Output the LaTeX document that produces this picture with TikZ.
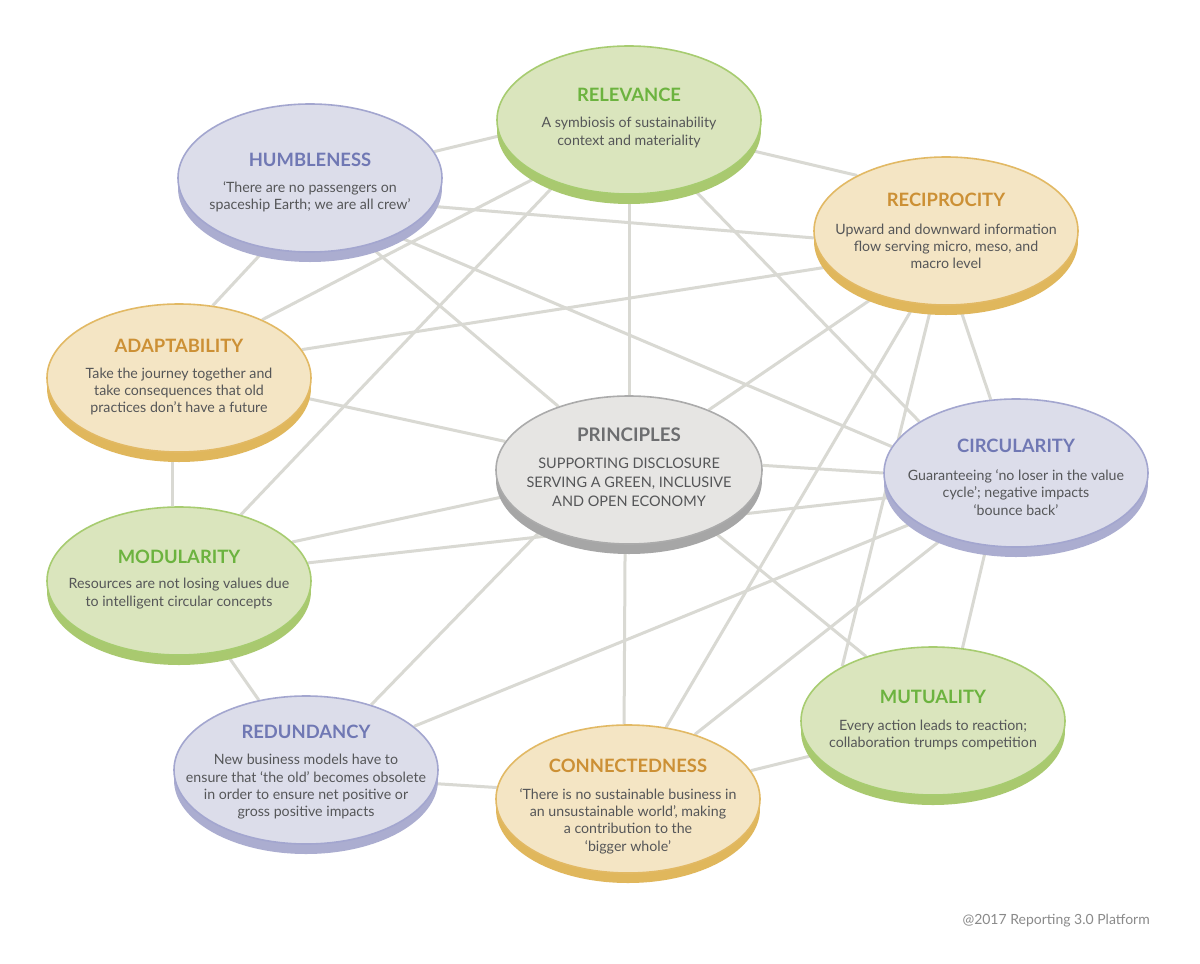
\documentclass[tikz,border=0pt]{standalone}
\usepackage{fontspec}
\setmainfont{Lato}
\usetikzlibrary{shapes.geometric,shadows,backgrounds}
\definecolor{purpleFill}{HTML}{DCDDEA}
\definecolor{purpleShadow}{HTML}{ABADD0}
\definecolor{purpleEdge}{HTML}{A3A6CF}
\definecolor{purpleTitle}{HTML}{7078B4}
\definecolor{greenFill}{HTML}{DAE5BD}
\definecolor{greenShadow}{HTML}{A9C96F}
\definecolor{greenEdge}{HTML}{A7CC70}
\definecolor{greenTitle}{HTML}{6CB33F}
\definecolor{goldFill}{HTML}{F4E5C4}
\definecolor{goldShadow}{HTML}{E0B75C}
\definecolor{goldEdge}{HTML}{E2B964}
\definecolor{goldTitle}{HTML}{CC9035}
\definecolor{grayFill}{HTML}{E6E5E3}
\definecolor{grayShadow}{HTML}{A6A6A6}
\definecolor{grayEdge}{HTML}{ABABAB}
\definecolor{grayTitle}{HTML}{6D6E70}
\definecolor{textGray}{HTML}{555658}
\definecolor{linkGray}{HTML}{D9D9D3}
\definecolor{footGray}{HTML}{8A8A8A}
\begin{document}
\begin{tikzpicture}[x=1pt,y=-1pt,
  disc/.style={ellipse, minimum width=264pt, minimum height=148pt, inner sep=0pt, line width=1.6pt},
  pdisc/.style={disc, draw=purpleEdge, fill=purpleFill, general shadow={fill=purpleShadow, shadow yshift=-10pt}},
  gdisc/.style={disc, draw=greenEdge, fill=greenFill, general shadow={fill=greenShadow, shadow yshift=-10pt}},
  odisc/.style={disc, draw=goldEdge, fill=goldFill, general shadow={fill=goldShadow, shadow yshift=-10pt}},
  cdisc/.style={disc, minimum width=266pt, draw=grayEdge, fill=grayFill, general shadow={fill=grayShadow, shadow yshift=-10pt}},
  ttl/.style={font=\bfseries\fontsize{18.4}{21}\selectfont, inner sep=0pt},
  body/.style={font=\fontsize{14.2}{17.3}\selectfont, text=textGray, align=center, inner sep=0pt},
  link/.style={draw=linkGray, line width=3pt}]
\useasboundingbox (0,0) rectangle (1200,964);

% discs
\node[gdisc] (relv) at (629,120) {};
\node[pdisc] (humb) at (310,178) {};
\node[odisc] (recp) at (946,231) {};
\node[odisc] (adap) at (179,378) {};
\node[cdisc] (prin) at (629,470) {};
\node[pdisc] (circ) at (1016,473) {};
\node[gdisc] (modu) at (179,581) {};
\node[gdisc] (mutu) at (933,721) {};
\node[pdisc] (redu) at (306,770) {};
\node[odisc] (conn) at (628,799) {};

% texts
\node[ttl, text=greenTitle] (relv-t) at (629,95) {RELEVANCE};
\node[body] (relv-b) at (629,132.5) {A symbiosis of sustainability\\context and materiality};

\node[ttl, text=purpleTitle] (humb-t) at (310,160) {HUMBLENESS};
\node[body] (humb-b) at (310,197) {‘There are no passengers on\\spaceship Earth; we are all crew’};

\node[ttl, text=goldTitle] (recp-t) at (946,200) {RECIPROCITY};
\node[body] (recp-b) at (946,246.5) {Upward and downward information\\flow serving micro, meso, and\\macro level};

\node[ttl, text=goldTitle] (adap-t) at (179,346) {ADAPTABILITY};
\node[body] (adap-b) at (179,391.5) {Take the journey together and\\take consequences that old\\practices don’t have a future};

\node[ttl, text=grayTitle, font=\bfseries\fontsize{18.7}{21}\selectfont] (prin-t) at (629,435) {PRINCIPLES};
\node[body, font=\fontsize{14.5}{19.2}\selectfont] (prin-b) at (629,482) {SUPPORTING DISCLOSURE\\SERVING A GREEN, INCLUSIVE\\AND OPEN ECONOMY};

\node[ttl, text=purpleTitle] (circ-t) at (1016,446) {CIRCULARITY};
\node[body] (circ-b) at (1016,492.5) {Guaranteeing ‘no loser in the value\\cycle’; negative impacts\\‘bounce back’};

\node[ttl, text=greenTitle] (modu-t) at (179,557) {MODULARITY};
\node[body] (modu-b) at (179,593.5) {Resources are not losing values due\\to intelligent circular concepts};

\node[ttl, text=greenTitle] (mutu-t) at (933,697) {MUTUALITY};
\node[body] (mutu-b) at (933,735) {Every action leads to reaction;\\collaboration trumps competition};

\node[ttl, text=purpleTitle] (redu-t) at (306,732) {REDUNDANCY};
\node[body] (redu-b) at (306,787) {New business models have to\\ensure that ‘the old’ becomes obsolete\\in order to ensure net positive or\\gross positive impacts};

\node[ttl, text=goldTitle] (conn-t) at (628,766) {CONNECTEDNESS};
\node[body] (conn-b) at (628,821) {‘There is no sustainable business in\\an unsustainable world’, making\\a contribution to the\\‘bigger whole’};

\node[anchor=east, inner sep=0pt, font=\fontsize{14}{16}\selectfont, text=footGray] (foot) at (1150,921) {@2017 Reporting 3.0 Platform};

\begin{pgfonlayer}{background}
\fill[white] (0,0) rectangle (1200,964);
\draw[link] (humb.12) -- (relv.187);
\draw[link] (humb.-13) -- (recp.183);
\draw[link] (humb.238) -- (adap.65);
\draw[link] (humb.-49) -- (prin.138);
\draw[link] (humb.-34) -- (circ.168);
\draw[link] (relv.-14) -- (recp.148);
\draw[link] (relv.270) -- (prin.90);
\draw[link] (relv.212) -- (adap.35);
\draw[link] (relv.221) -- (modu.47);
\draw[link] (relv.-47) -- (circ.152);
\draw[link] (recp.197) -- (adap.13);
\draw[link] (recp.223) -- (prin.37);
\draw[link] (recp.247) -- (conn.62);
\draw[link] (recp.259) -- (mutu.149);
\draw[link] (recp.-80) -- (circ.109);
\draw[link] (adap.-9) -- (prin.167);
\draw[link] (adap.265) -- (modu.95);
\draw[link] (prin.192) -- (modu.19);
\draw[link] (prin.2) -- (circ.180);
\draw[link] (prin.214) -- (redu.45);
\draw[link] (prin.267) -- (conn.93);
\draw[link] (prin.-36) -- (mutu.136);
\draw[link] (modu.8) -- (circ.191);
\draw[link] (modu.-57) -- (redu.124);
\draw[link] (redu.22) -- (circ.206);
\draw[link] (redu.-6) -- (conn.175);
\draw[link] (conn.44) -- (circ.222);
\draw[link] (conn.13) -- (mutu.196);
\draw[link] (mutu.68) -- (circ.248);
\end{pgfonlayer}
\end{tikzpicture}
\end{document}
